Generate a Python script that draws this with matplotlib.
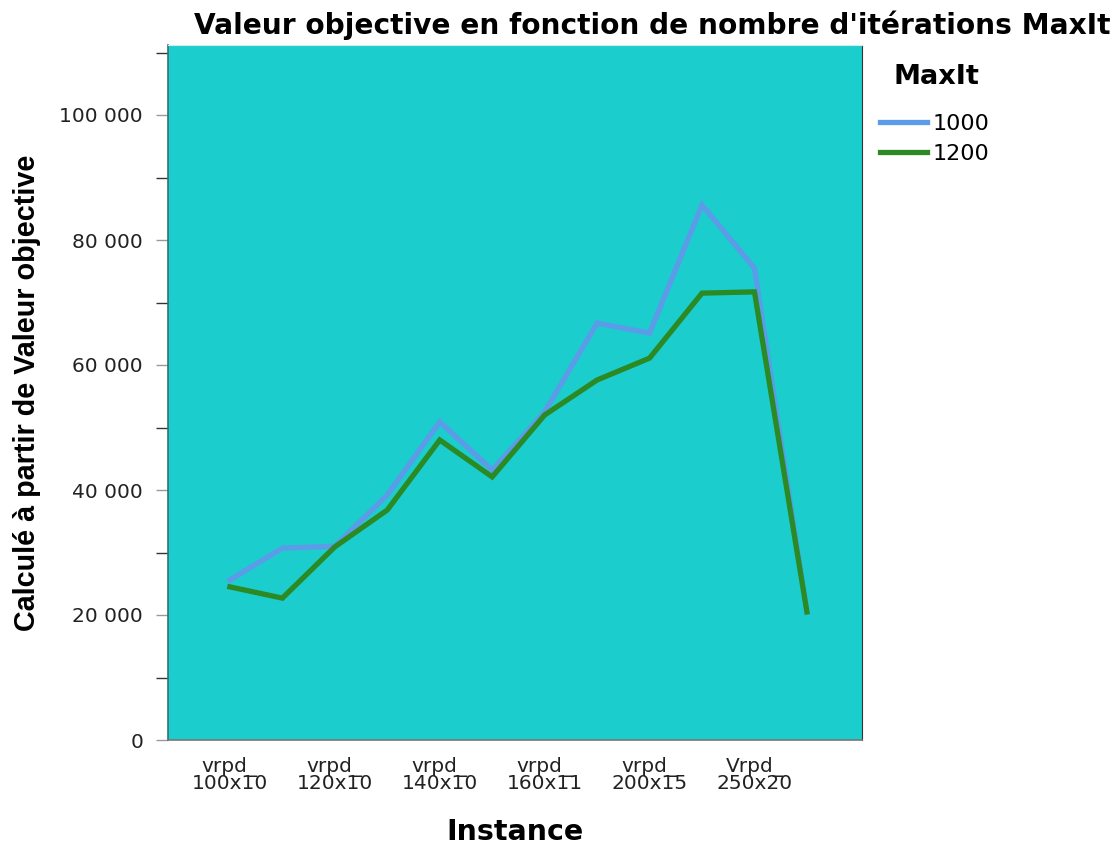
import matplotlib
matplotlib.use("Agg")
import matplotlib.pyplot as plt
from matplotlib.ticker import MultipleLocator, FuncFormatter
from matplotlib import font_manager

# Instances (every second name is printed on the axis, as space allows)
instances = [
    "vrpd_\n100x10", "vrpd_\n110x10", "vrpd_\n120x10", "vrpd_\n130x10",
    "vrpd_\n140x10", "vrpd_\n150x10", "vrpd_\n160x11", "vrpd_\n180x12",
    "vrpd_\n200x15", "vrpd_\n220x18", "Vrpd_\n250x20", "Vrpd_\n300x25",
]
shown_every = 2

maxit_1000 = [25600, 30700, 31000, 39200, 50900, 43200,
              52500, 66700, 65100, 85600, 75500, 20500]
maxit_1200 = [24500, 22700, 30900, 36800, 48000, 42100,
              52000, 57600, 61100, 71500, 71700, 20500]

series_names = ["1000", "1200"]
series_colors = ["#5b9be8", "#2b8a24"]

available = {f.name for f in font_manager.fontManager.ttflist}
wide_font = ["DejaVu Sans"]
tall_font = ["Liberation Sans", "DejaVu Sans"] if "Liberation Sans" in available else ["DejaVu Sans"]
plt.rcParams["font.family"] = wide_font

fig = plt.figure(figsize=(11.17, 8.48), dpi=100)
ax = fig.add_axes([168 / 1117, 1 - 740 / 848, (862 - 168) / 1117, (740 - 45) / 848])
ax.set_facecolor("#1ccdcd")

x = list(range(len(instances)))
for vals, name, col in zip([maxit_1000, maxit_1200], series_names, series_colors):
    ax.plot(x, vals, color=col, lw=3.8, solid_joinstyle="miter", label=name)

ax.set_xlim(-1.18, len(instances) - 1 + 1.05)
ax.set_ylim(0, 111200)

ax.yaxis.set_major_locator(MultipleLocator(20000))
ax.yaxis.set_minor_locator(MultipleLocator(10000))
ax.yaxis.set_major_formatter(FuncFormatter(lambda v, p: f"{int(v):,}".replace(",", " ")))
ax.tick_params(axis="y", which="major", direction="out", length=9, width=1,
               color="#9a9a9a", labelsize=14.5, labelcolor="#222222", pad=9)
ax.tick_params(axis="y", which="minor", direction="out", length=9, width=1,
               color="#333333")

ax.set_xticks(x[::shown_every])
ax.set_xticklabels(instances[::shown_every], fontsize=14.5, color="#222222",
                   linespacing=0.85)
ax.tick_params(axis="x", length=0, pad=12)

ax.spines["left"].set_color("#3a6f6f")
ax.spines["left"].set_linewidth(1.2)
ax.spines["bottom"].set_color("#777777")
ax.spines["bottom"].set_linewidth(1.2)
ax.spines["right"].set_color("#333333")
ax.spines["top"].set_color("#cfeeee")

ax.set_ylabel("Calculé à partir de Valeur objective", fontsize=20.7, fontweight="bold",
              family=tall_font)
ax.yaxis.set_label_coords(-0.203, 0.5)
ax.yaxis.label.set_va("center")

ax.set_xlabel("Instance", fontsize=20.5, fontweight="bold")
ax.xaxis.set_label_coords(0.5, -92 / 695)
ax.xaxis.label.set_va("center")

fig.text(652 / 1117, 1 - 25 / 848,
         "Valeur objective en fonction de nombre d'itérations MaxIt",
         ha="center", va="center", fontsize=20.2, fontweight="bold")

# Legend: heading plus one line handle per MaxIt setting
fig.text(893 / 1117, 1 - 77 / 848, "MaxIt", ha="left", va="center",
         fontsize=19.5, fontweight="bold")
fig.legend(loc="upper left", bbox_to_anchor=(880 / 1117, 1 - 114 / 848),
           frameon=False, fontsize=16, handlelength=2.1, handletextpad=0.27,
           labelspacing=0.43, borderaxespad=0, borderpad=0)

fig.savefig("out.png", dpi=100, facecolor="white")
